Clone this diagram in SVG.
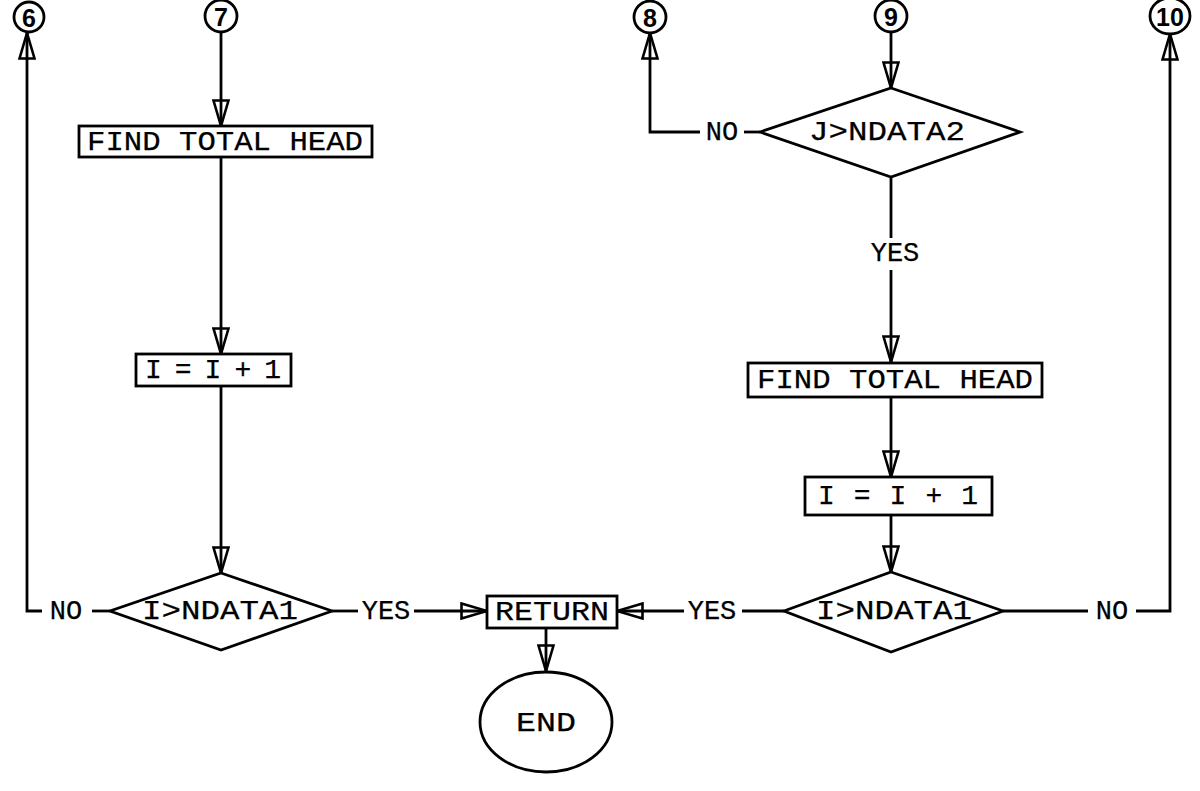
<svg xmlns="http://www.w3.org/2000/svg" width="1200" height="791" viewBox="0 0 1200 791">
<style>
.s{fill:none;stroke:#000;stroke-width:2.8}
.b{fill:#fff;stroke:#000;stroke-width:2.8}
.t{font-family:"Liberation Mono","Courier New",monospace;font-size:28px;fill:#000;stroke:#000;stroke-width:0.25;text-anchor:middle;dominant-baseline:central}
.l{font-family:"Liberation Mono","Courier New",monospace;font-size:27px;fill:#000;stroke:#000;stroke-width:0.25;text-anchor:middle;dominant-baseline:central}
.c{font-family:"Liberation Sans",Arial,sans-serif;font-size:25px;font-weight:bold;fill:#000;text-anchor:middle;dominant-baseline:central}
</style>
<defs>
<marker id="ah" viewBox="0 0 28 18" refX="27" refY="9" markerWidth="28" markerHeight="18" markerUnits="userSpaceOnUse" orient="auto">
<path d="M1.5,1.5 L27,9 L1.5,16.5 Z" fill="none" stroke="#000" stroke-width="2.6" stroke-linejoin="miter"/>
</marker>
</defs>
<rect width="1200" height="791" fill="#fff"/>
<g id="connectors">
<path class="s" d="M221 32 V126" marker-end="url(#ah)"/>
<path class="s" d="M221 157 V354" marker-end="url(#ah)"/>
<path class="s" d="M221 386 V573" marker-end="url(#ah)"/>
<path class="s" d="M110 611 H92"/>
<path class="s" d="M42 611 H27 V33" marker-end="url(#ah)"/>
<text class="l" x="66" y="612">NO</text>
<path class="s" d="M332 611 H358"/>
<text class="l" x="386" y="612">YES</text>
<path class="s" d="M414 611 H487" marker-end="url(#ah)"/>
<path class="s" d="M784 611 H742"/>
<text class="l" x="712" y="612">YES</text>
<path class="s" d="M684 611 H617" marker-end="url(#ah)"/>
<path class="s" d="M1003 611 H1088"/>
<text class="l" x="1112" y="612">NO</text>
<path class="s" d="M1136 611 H1170 V34" marker-end="url(#ah)"/>
<path class="s" d="M546 628 V671" marker-end="url(#ah)"/>
<path class="s" d="M891 32 V88" marker-end="url(#ah)"/>
<path class="s" d="M760 132 H744"/>
<text class="l" x="722" y="133">NO</text>
<path class="s" d="M700 132 H650 V33" marker-end="url(#ah)"/>
<path class="s" d="M891 177 V238"/>
<text class="l" x="895" y="254">YES</text>
<path class="s" d="M891 270 V362" marker-end="url(#ah)"/>
<path class="s" d="M891 397 V477" marker-end="url(#ah)"/>
<path class="s" d="M891 515 V572" marker-end="url(#ah)"/>
</g>
<g id="c6"><circle class="b" cx="29" cy="17" r="15"/><text class="c" x="29" y="18">6</text></g>
<g id="c7"><circle class="b" cx="221" cy="16" r="16"/><text class="c" x="221" y="17">7</text></g>
<g id="c8"><circle class="b" cx="650" cy="17" r="16"/><text class="c" x="650" y="18">8</text></g>
<g id="c9"><circle class="b" cx="891" cy="16" r="16"/><text class="c" x="891" y="17">9</text></g>
<g id="c10"><ellipse class="b" cx="1170" cy="16" rx="20" ry="18"/><text class="c" x="1170" y="17">10</text></g>
<g id="fth1"><rect class="b" x="79" y="126" width="293" height="31"/><text class="t" x="225" y="142" textLength="276" lengthAdjust="spacingAndGlyphs">FIND TOTAL HEAD</text></g>
<g id="inc1"><rect class="b" x="136" y="354" width="155" height="32"/><text class="t" x="213" y="370" textLength="136" lengthAdjust="spacing">I = I + 1</text></g>
<g id="dec1"><polygon class="b" points="221,573 332,611 221,650 110,611"/><text class="t" x="220" y="611" textLength="156" lengthAdjust="spacingAndGlyphs">I&gt;NDATA1</text></g>
<g id="ret"><rect class="b" x="487" y="596" width="130" height="32"/><text class="t" x="552" y="612" textLength="114" lengthAdjust="spacingAndGlyphs">RETURN</text></g>
<g id="end"><ellipse class="b" cx="546" cy="722" rx="66" ry="50"/><text class="t" x="546" y="723" textLength="60" lengthAdjust="spacingAndGlyphs">END</text></g>
<g id="dec2"><polygon class="b" points="891,88 1020,132 891,177 760,132"/><text class="t" x="887" y="132" textLength="156" lengthAdjust="spacingAndGlyphs">J&gt;NDATA2</text></g>
<g id="fth2"><rect class="b" x="748" y="363" width="294" height="34"/><text class="t" x="895" y="380" textLength="276" lengthAdjust="spacingAndGlyphs">FIND TOTAL HEAD</text></g>
<g id="inc2"><rect class="b" x="805" y="477" width="187" height="38"/><text class="t" x="898" y="496" textLength="160" lengthAdjust="spacing">I = I + 1</text></g>
<g id="dec3"><polygon class="b" points="891,572 1003,611 891,652 784,611"/><text class="t" x="894" y="611" textLength="156" lengthAdjust="spacingAndGlyphs">I&gt;NDATA1</text></g>
</svg>
